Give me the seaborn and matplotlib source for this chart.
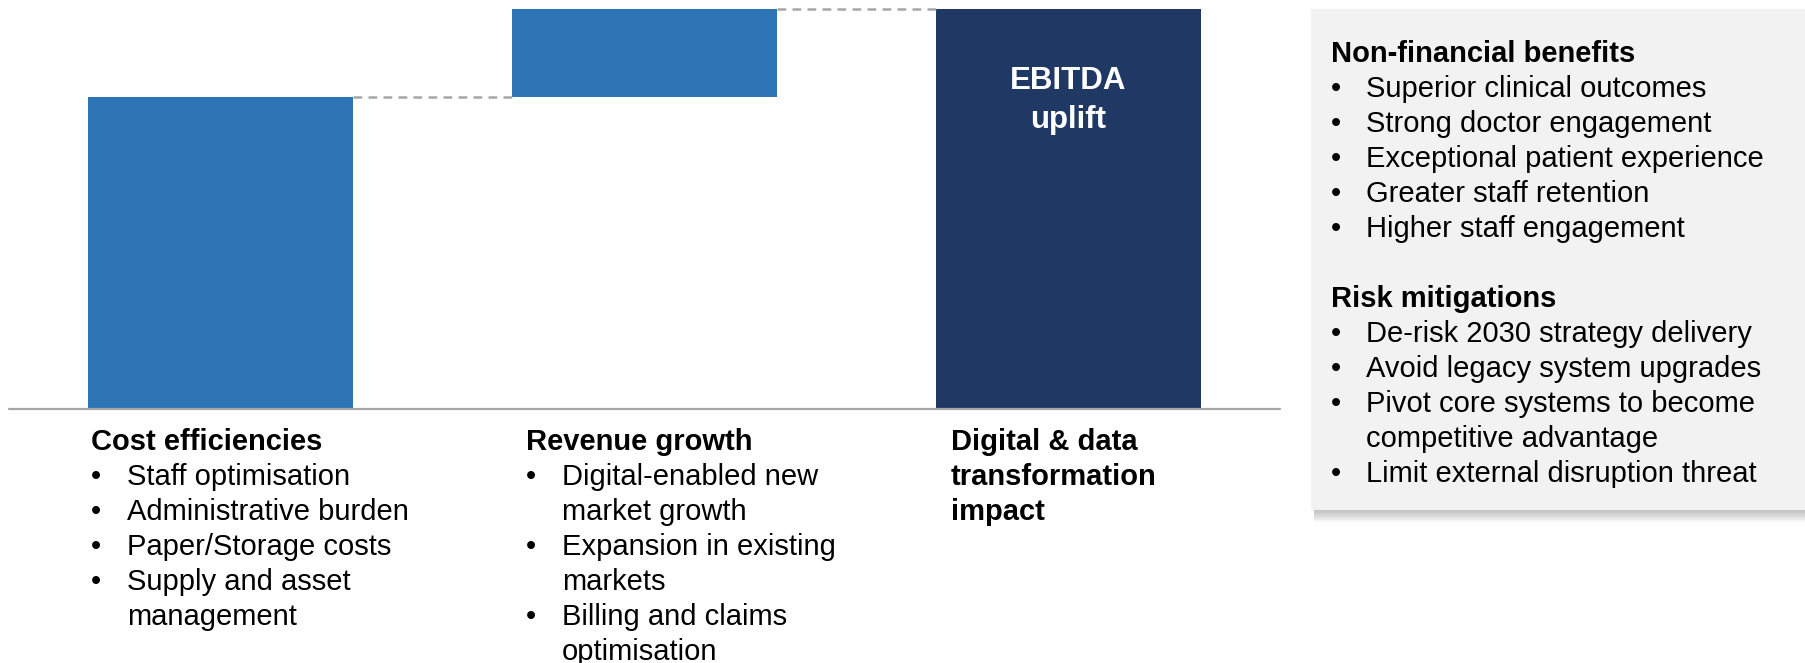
import matplotlib
matplotlib.use("Agg")
import matplotlib.pyplot as plt
import seaborn as sns
from matplotlib.patches import Rectangle

# ---------------- data ----------------
categories = ["Cost efficiencies", "Revenue growth", "Digital & data transformation impact"]
step_values = [78, 22]                      # contributions
total_value = sum(step_values)              # EBITDA uplift
bar_heights = step_values + [total_value]
bar_bottoms = [0, step_values[0], 0]

col_headings = ["Cost efficiencies", "Revenue growth", "Digital & data\ntransformation\nimpact"]
col_bullets = [
    ["Staff optimisation", "Administrative burden", "Paper/Storage costs", "Supply and asset\nmanagement"],
    ["Digital-enabled new\nmarket growth", "Expansion in existing\nmarkets", "Billing and claims\noptimisation"],
    [],
]
bar_label = "EBITDA\nuplift"

panel_sections = [
    ("Non-financial benefits", ["Superior clinical outcomes", "Strong doctor engagement",
                                "Exceptional patient experience", "Greater staff retention",
                                "Higher staff engagement"]),
    ("Risk mitigations", ["De-risk 2030 strategy delivery", "Avoid legacy system upgrades",
                          "Pivot core systems to become\ncompetitive advantage",
                          "Limit external disruption threat"]),
]

# ---------------- style ----------------
BLUE = "#2E75B6"
NAVY = "#203864"
GREY = "#A6A6A6"
PANEL = "#F2F2F2"
FS = 21

sns.set_theme(style="white")
plt.rcParams["font.family"] = ["Liberation Sans", "DejaVu Sans"]

W, H = 1805, 663
fig = plt.figure(figsize=(W / 100, H / 100), dpi=100)


def fx(px):
    return px / W


def fy(py):
    return 1 - py / H


AX_TOP, AX_BOT = 9, 409
ax = fig.add_axes([fx(9), fy(AX_BOT), fx(1280) - fx(9), fy(AX_TOP) - fy(AX_BOT)])
sns.barplot(x=categories, y=bar_heights, bottom=bar_bottoms, color=BLUE,
            saturation=1, width=0.626, ax=ax, linewidth=0)
patches = ax.patches
patches[2].set_facecolor(NAVY)

ax.set_xlim(-0.5, 2.5)
ax.set_ylim(0, total_value)
ax.set_xticks([])
ax.set_yticks([])
ax.set_xlabel("")
ax.set_ylabel("")
for s in ax.spines.values():
    s.set_visible(False)
ax.axhline(0, color=GREY, lw=1.6, clip_on=False, zorder=5)

# connectors
levels = [bar_heights[0], bar_bottoms[1] + bar_heights[1]]
for i, lev in enumerate(levels):
    p0, p1 = patches[i], patches[i + 1]
    ax.plot([p0.get_x() + p0.get_width(), p1.get_x()], [lev, lev],
            color=GREY, lw=1.8, dashes=(3.5, 2.5), clip_on=False, zorder=1)

# label inside total bar (baselines in pixels from figure top)
pt = patches[2]
cx = pt.get_x() + pt.get_width() / 2
px_per_unit = (AX_BOT - AX_TOP) / total_value
for line, base_px in zip(bar_label.split("\n"), [89, 128]):
    ax.text(cx, total_value - (base_px - AX_TOP) / px_per_unit, line, ha="center",
            va="baseline", color="white", fontsize=22.5, fontweight="bold")

# ---------------- text columns under bars ----------------
LINE = 35


def write_block(x_head, x_text, y0, heading, bullets):
    y = y0
    for hl in heading.split("\n"):
        fig.text(fx(x_head), fy(y), hl, fontsize=FS, fontweight="bold",
                 color="black", va="baseline", ha="left")
        y += LINE
    for b in bullets:
        lines = b.split("\n")
        fig.text(fx(x_head), fy(y), "\u2022", fontsize=FS, color="black",
                 va="baseline", ha="left")
        for ln in lines:
            fig.text(fx(x_text), fy(y), ln, fontsize=FS, color="black",
                     va="baseline", ha="left")
            y += LINE
    return y


col_x = [(91, 127), (526, 562), (951, 987)]
for (xh, xt), head, bl in zip(col_x, col_headings, col_bullets):
    write_block(xh, xt, 450, head, bl)

# ---------------- right panel ----------------
px0, py0, px1, py1 = 1311, 9, 1805, 510
for k in range(8):
    fig.patches.append(Rectangle((fx(px0 + 3), fy(py1 + 1 + k * 1.5)),
                                 fx(px1) - fx(px0 + 3), (1.5 + k * 1.5) / H,
                                 transform=fig.transFigure, facecolor="#808080",
                                 alpha=0.07, edgecolor="none", zorder=0))
fig.patches.append(Rectangle((fx(px0), fy(py1)), fx(px1) - fx(px0), (py1 - py0) / H,
                             transform=fig.transFigure, facecolor=PANEL,
                             edgecolor="none", zorder=1))

y = 62
for head, bl in panel_sections:
    y = write_block(1331, 1366, y, head, bl)
    y += LINE

fig.savefig("out.png", dpi=100)
